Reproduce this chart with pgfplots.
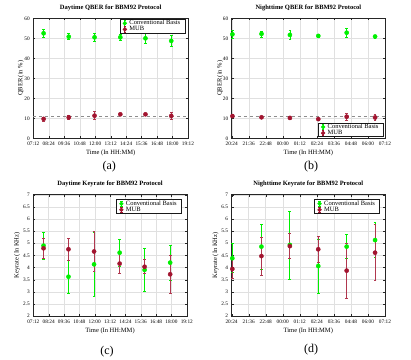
\documentclass[border=0pt]{standalone}
\usepackage{pgfplots}
\usepackage{fontspec}
\setmainfont{Liberation Serif}
\pgfplotsset{compat=1.18}
\definecolor{MGreen}{HTML}{00F000}
\definecolor{MRed}{HTML}{A2142F}

\pgfplotsset{
  panel/.style={
    scale only axis, anchor=south west, clip=false,
    xmajorgrids, ymajorgrids,
    grid style={black!12, line width=0.4pt},
    axis line style={black!85, line width=0.6pt},
    tick align=inside, major tick length=2pt, tick style={black!85},
    ticklabel style={font=\fontsize{5.3}{6}\selectfont},
    xticklabel style={yshift=-0.5pt},
    label style={font=\fontsize{6.5}{7}\selectfont},
    title style={font=\bfseries\fontsize{6.5}{7}\selectfont, at={(0.5,1)}, anchor=south, inner sep=1.2pt},
    xlabel style={at={(axis description cs:0.5,-0.125)}, anchor=center},
    /pgf/number format/assume math mode=true,
    xlabel={Time (In HH:MM)},
    legend style={font=\fontsize{6.5}{7}\selectfont, draw=black!90, line width=1pt,
      inner xsep=2.5pt, inner ysep=0.5pt, row sep=-0.6pt, cells={anchor=west},
      nodes={inner xsep=2.5pt, inner ysep=0.4pt}},
  },
  day/.style={xmin=7.2, xmax=19.2,
    xtick={7.2,8.4,9.6,10.8,12,13.2,14.4,15.6,16.8,18,19.2},
    xticklabels={07:12,08:24,09:36,10:48,12:00,13:12,14:24,15:36,16:48,18:00,19:12}},
  night/.style={xmin=20.4, xmax=31.2,
    xtick={20.4,21.6,22.8,24,25.2,26.4,27.6,28.8,30,31.2},
    xticklabels={20:24,21:36,22:48,00:00,01:12,02:24,03:36,04:48,06:00,07:12}},
  qber/.style={ymin=0, ymax=60, ytick={0,10,...,60}, ylabel={QBER (in \%)},
    ylabel style={at={(axis description cs:-0.08,0.5)}, anchor=center}},
  krate/.style={ymin=2, ymax=7, ytick={2,2.5,...,7}, ylabel={Keyrate (In KHz)},
    ylabel style={at={(axis description cs:-0.105,0.5)}, anchor=center}},
  gser/.style={only marks, mark=*, mark size=2.1pt, color=MGreen,
    error bars/.cd, y dir=both, y explicit,
    error bar style={line width=0.7pt, color=MGreen},
    error mark options={rotate=90, mark size=1.4pt, line width=0.7pt, color=MGreen},
    /pgfplots/legend image code/.code={
      \draw[MGreen, line width=0.7pt] (0.45em,-2.6pt) -- (0.45em,2.6pt)
        (0.45em-1.2pt,2.6pt) -- (0.45em+1.2pt,2.6pt) (0.45em-1.2pt,-2.6pt) -- (0.45em+1.2pt,-2.6pt);
      \fill[MGreen] (0.45em,0) circle (1.6pt);}},
  rser/.style={only marks, mark=*, mark size=2.1pt, color=MRed,
    error bars/.cd, y dir=both, y explicit,
    error bar style={line width=0.7pt, color=MRed!85},
    error mark options={rotate=90, mark size=1.4pt, line width=0.7pt, color=MRed!85},
    /pgfplots/legend image code/.code={
      \draw[MRed, line width=0.7pt] (0.45em,-2.6pt) -- (0.45em,2.6pt)
        (0.45em-1.2pt,2.6pt) -- (0.45em+1.2pt,2.6pt) (0.45em-1.2pt,-2.6pt) -- (0.45em+1.2pt,-2.6pt);
      \fill[MRed] (0.45em,0) circle (1.6pt);}},
  thr/.style={dashed, black!45, line width=0.8pt, forget plot},
}

\begin{document}
\begin{tikzpicture}[x=1pt,y=1pt]
\path[use as bounding box] (0,0) rectangle (411,359);

% (a) daytime QBER
\begin{axis}[panel, day, qber, at={(33.3pt,220.7pt)}, width=154.7pt, height=120pt,
  title={Daytime QBER for BBM92 Protocol},
  legend style={at={(rel axis cs:0.985,0.995)}, anchor=north east}]
\addplot[thr] coordinates {(7.2,11) (19.2,11)};
\addplot[gser] coordinates {
  (8.0,52.5) +- (0,2.1) (9.95,50.8) +- (0,1.5) (11.95,50.5) +- (0,2.0)
  (13.95,50.5) +- (0,1.7) (15.9,50.0) +- (0,2.3) (17.9,48.7) +- (0,2.6)};
\addplot[rser] coordinates {
  (8.0,9.7) +- (0,1.0) (9.95,10.5) +- (0,0.9) (11.95,11.3) +- (0,2.0)
  (13.95,12.0) +- (0,0.5) (15.9,12.0) +- (0,0.5) (17.9,11.2) +- (0,1.8)};
\legend{Conventional Basis, MUB}
\end{axis}

% (b) nighttime QBER
\begin{axis}[panel, night, qber, at={(231.7pt,220.7pt)}, width=153.3pt, height=120pt,
  title={Nighttime QBER for BBM92 Protocol},
  ylabel style={at={(axis description cs:-0.076,0.5)}},
  legend style={at={(rel axis cs:0.993,0.008)}, anchor=south east}]
\addplot[thr] coordinates {(20.4,11) (31.2,11)};
\addplot[gser] coordinates {
  (20.45,52.0) +- (0,2.0) (22.5,52.2) +- (0,1.5) (24.5,51.7) +- (0,2.2)
  (26.5,51.2) +- (0,0.8) (28.5,52.8) +- (0,2.3) (30.5,50.9) +- (0,0.7)};
\addplot[rser] coordinates {
  (20.45,11.1) +- (0,0.8) (22.5,10.5) +- (0,0.7) (24.5,10.2) +- (0,0.9)
  (26.5,9.6) +- (0,0.6) (28.5,10.8) +- (0,1.8) (30.5,10.4) +- (0,1.5)};
\legend{Conventional Basis, MUB}
\end{axis}

% (c) daytime keyrate
\begin{axis}[panel, day, krate, at={(33.3pt,43pt)}, width=153.5pt, height=121.3pt,
  title={Daytime Keyrate for BBM92 Protocol},
  legend style={at={(rel axis cs:0.97,0.962)}, anchor=north east}]
\addplot[gser] coordinates {
  (8.0,4.90) +- (0,0.56) (9.95,3.62) +- (0,0.68) (11.95,4.13) +- (0,1.30)
  (13.95,4.61) +- (0,0.57) (15.9,3.90) +- (0,0.90) (17.9,4.20) +- (0,0.73)};
\addplot[rser] coordinates {
  (8.0,4.79) +- (0,0.43) (9.95,4.75) +- (0,0.45) (11.95,4.66) +- (0,0.82)
  (13.95,4.16) +- (0,0.41) (15.9,4.03) +- (0,0.29) (17.9,3.72) +- (0,0.80)};
\legend{Conventional Basis, MUB}
\end{axis}

% (d) nighttime keyrate
\begin{axis}[panel, night, krate, at={(231.6pt,43pt)}, width=153.4pt, height=121.3pt,
  title={Nighttime Keyrate for BBM92 Protocol},
  legend style={at={(rel axis cs:0.97,0.962)}, anchor=north east}]
\addplot[gser] coordinates {
  (20.45,4.38) +- (0,0.60) (22.5,4.86) +- (0,0.92) (24.5,4.93) +- (0,1.40)
  (26.5,4.06) +- (0,1.12) (28.5,4.86) +- (0,0.50) (30.5,5.13) +- (0,0.73)};
\addplot[rser] coordinates {
  (20.45,3.94) +- (0,0.40) (22.5,4.47) +- (0,0.79) (24.5,4.88) +- (0,0.52)
  (26.5,4.75) +- (0,0.53) (28.5,3.87) +- (0,1.13) (30.5,4.61) +- (0,1.15)};
\legend{Conventional Basis, MUB}
\end{axis}

\node[font=\fontsize{12}{14}\selectfont] at (109.3,192.3) {(a)};
\node[font=\fontsize{12}{14}\selectfont] at (311,192.3) {(b)};
\node[font=\fontsize{12}{14}\selectfont] at (107,7.5) {(c)};
\node[font=\fontsize{12}{14}\selectfont] at (311,9.5) {(d)};
\end{tikzpicture}
\end{document}
